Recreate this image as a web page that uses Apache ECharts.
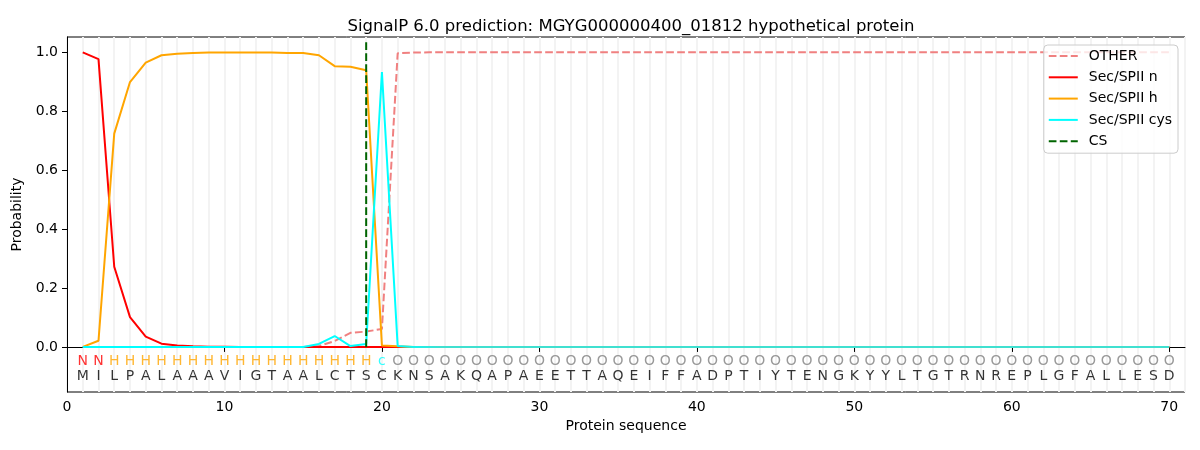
<!DOCTYPE html>
<html>
<head>
<meta charset="utf-8">
<script src="https://cdn.jsdelivr.net/npm/echarts@6/dist/echarts.min.js"></script>
<style>
html,body{margin:0;padding:0;background:#fff;}
#chart{width:1200px;height:450px;}
</style>
</head>
<body>
<div id="chart"></div>
<script>
const titleText = 'SignalP 6.0 prediction: MGYG000000400_01812 hypothetical protein';
const residues = 'MILPALAAAVIGTAALCTSCKNSAKQAPAEETTAQEIFFADPTIYTENGKYYLTGTRNREPLGFALLESD'.split('');
const regionLabels = ('NN' + 'HHHHHHHHHHHHHHHHH' + 'c' + 'OOOOOOOOOOOOOOOOOOOOOOOOOOOOOOOOOOOOOOOOOOOOOOOOOO').split('');
const labelColors = {N: '#ff0000', H: '#ffa500', c: '#00ffff', O: '#808080'};

const otherVals = [
  0,0,0,0,0,0,0,0,0,0,
  0,0,0,0,0,0.003,0.02,0.048,0.052,0.061,
  0.997,0.999,1,1,1,1,1,1,1,1,
  1,1,1,1,1,1,1,1,1,1,
  1,1,1,1,1,1,1,1,1,1,
  1,1,1,1,1,1,1,1,1,1,
  1,1,1,1,1,1,1,1,1,1
];
const secNVals = [
  1.0,0.977,0.272,0.101,0.035,0.011,0.005,0.002,0.001,0.001,
  0,0,0,0,0,0,0,0,0,0,
  0,0,0,0,0,0,0,0,0,0,
  0,0,0,0,0,0,0,0,0,0,
  0,0,0,0,0,0,0,0,0,0,
  0,0,0,0,0,0,0,0,0,0,
  0,0,0,0,0,0,0,0,0,0
];
const secHVals = [
  0.0,0.021,0.724,0.899,0.965,0.99,0.995,0.998,0.999,0.999,
  0.999,0.999,0.999,0.998,0.998,0.99,0.953,0.951,0.939,0.005,
  0.002,0,0,0,0,0,0,0,0,0,
  0,0,0,0,0,0,0,0,0,0,
  0,0,0,0,0,0,0,0,0,0,
  0,0,0,0,0,0,0,0,0,0,
  0,0,0,0,0,0,0,0,0,0
];
const cysVals = [
  0,0,0,0,0,0,0,0,0,0,
  0,0,0,0,0,0.01,0.037,0.003,0.01,0.933,
  0.003,0,0,0,0,0,0,0,0,0,
  0,0,0,0,0,0,0,0,0,0,
  0,0,0,0,0,0,0,0,0,0,
  0,0,0,0,0,0,0,0,0,0,
  0,0,0,0,0,0,0,0,0,0
];
const csPosition = 19;
const csRange = [0, 1.04];
const xTicks = [0,10,20,30,40,50,60,70];
const yTicks = [0,0.2,0.4,0.6,0.8,1.0];
const yMin = -0.153, yMax = 1.052;
const xMin = 0, xMax = 71;
const residueY = -0.1, labelY = -0.05;

const FONT = 'DejaVu Sans';
const pairs = arr => arr.map((v, i) => [i + 1, v]);
const dash = [7.7, 3.3];

const chart = echarts.init(document.getElementById('chart'), null, {renderer: 'canvas'});
chart.setOption({
  animation: false,
  backgroundColor: '#ffffff',
  textStyle: {fontFamily: FONT},
  title: {
    text: titleText,
    left: 626, top: 13, textAlign: 'center',
    textStyle: {fontFamily: FONT, fontSize: 16.5, fontWeight: 'normal', color: '#000'}
  },
  grid: {
    left: 67, right: 15, top: 37, bottom: 58,
    show: true, borderColor: '#000', borderWidth: 1, backgroundColor: 'transparent'
  },
  legend: {
    orient: 'vertical', right: 22, top: 45,
    itemWidth: 29, itemHeight: 14, itemGap: 7.3,
    padding: [4, 6, 5, 4],
    backgroundColor: 'rgba(255,255,255,0.8)',
    borderColor: '#cccccc', borderWidth: 1, borderRadius: 4,
    itemStyle: {opacity: 0},
    textStyle: {fontFamily: FONT, fontSize: 14, color: '#000', padding: [0, 0, 0, 6]},
    data: [
      {name: 'OTHER'},
      {name: 'Sec/SPII n'},
      {name: 'Sec/SPII h'},
      {name: 'Sec/SPII cys', lineStyle: {color: '#00ffff'}},
      {name: 'CS'}
    ]
  },
  xAxis: [{
    type: 'value', min: xMin, max: xMax,
    name: 'Protein sequence', nameLocation: 'middle', nameGap: 27,
    nameTextStyle: {fontFamily: FONT, fontSize: 14, color: '#000'},
    axisLine: {show: true, lineStyle: {color: '#000', width: 1}},
    axisTick: {show: true, length: 5, lineStyle: {color: '#000'}, customValues: xTicks},
    axisLabel: {show: true, margin: 8, fontFamily: FONT, fontSize: 14, color: '#000', customValues: xTicks},
    splitLine: {show: false}
  }, {
    type: 'value', min: xMin, max: xMax, interval: 1, position: 'bottom',
    axisLine: {show: false}, axisTick: {show: false}, axisLabel: {show: false},
    splitLine: {show: true, lineStyle: {color: '#f3f3f3', width: 2}}
  }],
  yAxis: {
    type: 'value', min: yMin, max: yMax,
    name: 'Probability', nameLocation: 'middle', nameGap: 40,
    nameTextStyle: {fontFamily: FONT, fontSize: 14, color: '#000'},
    axisLine: {show: true, lineStyle: {color: '#000', width: 1}},
    axisTick: {show: true, length: 5, lineStyle: {color: '#000'}, customValues: yTicks},
    axisLabel: {show: true, margin: 9, fontFamily: FONT, fontSize: 14, color: '#000',
      customValues: yTicks, formatter: v => Number(v).toFixed(1)},
    splitLine: {show: false}
  },
  series: [
    {
      name: 'OTHER', type: 'line', data: pairs(otherVals), symbol: 'none', z: 2,
      color: '#f08080',
      lineStyle: {color: '#f08080', width: 2, type: dash}
    },
    {
      name: 'Sec/SPII n', type: 'line', data: pairs(secNVals), symbol: 'none', z: 3,
      color: '#ff0000',
      lineStyle: {color: '#ff0000', width: 2}
    },
    {
      name: 'Sec/SPII h', type: 'line', data: pairs(secHVals), symbol: 'none', z: 4,
      color: '#ffa500',
      lineStyle: {color: '#ffa500', width: 2}
    },
    {
      name: 'Sec/SPII cys', type: 'line', data: pairs(cysVals), symbol: 'none', z: 5,
      color: '#00ffff',
      lineStyle: {width: 2, color: new echarts.graphic.LinearGradient(0, 0, 1, 0, [
        {offset: 0, color: '#00ffff'}, {offset: 0.29, color: '#00ffff'},
        {offset: 0.33, color: '#40e0d0'}, {offset: 1, color: '#40e0d0'}
      ])}
    },
    {
      name: 'CS', type: 'line', data: [[csPosition, csRange[0]], [csPosition, csRange[1]]], symbol: 'none', z: 6,
      color: '#006400',
      lineStyle: {color: '#006400', width: 2, type: dash}
    },
    {
      name: 'labels', type: 'scatter', symbolSize: 1, itemStyle: {color: 'rgba(0,0,0,0)'}, z: 7, silent: true,
      data: regionLabels.map((l, i) => ({
        value: [i + 1, labelY, l],
        label: {color: labelColors[l]}
      })),
      label: {show: true, position: 'inside', formatter: p => p.value[2],
        fontFamily: FONT, fontSize: 14}
    },
    {
      name: 'residues', type: 'scatter', symbolSize: 1, itemStyle: {color: 'rgba(0,0,0,0)'}, z: 7, silent: true,
      data: residues.map((r, i) => [i + 1, residueY, r]),
      label: {show: true, position: 'inside', formatter: p => p.value[2],
        fontFamily: FONT, fontSize: 14, color: '#000'}
    }
  ]
});
</script>
</body>
</html>
